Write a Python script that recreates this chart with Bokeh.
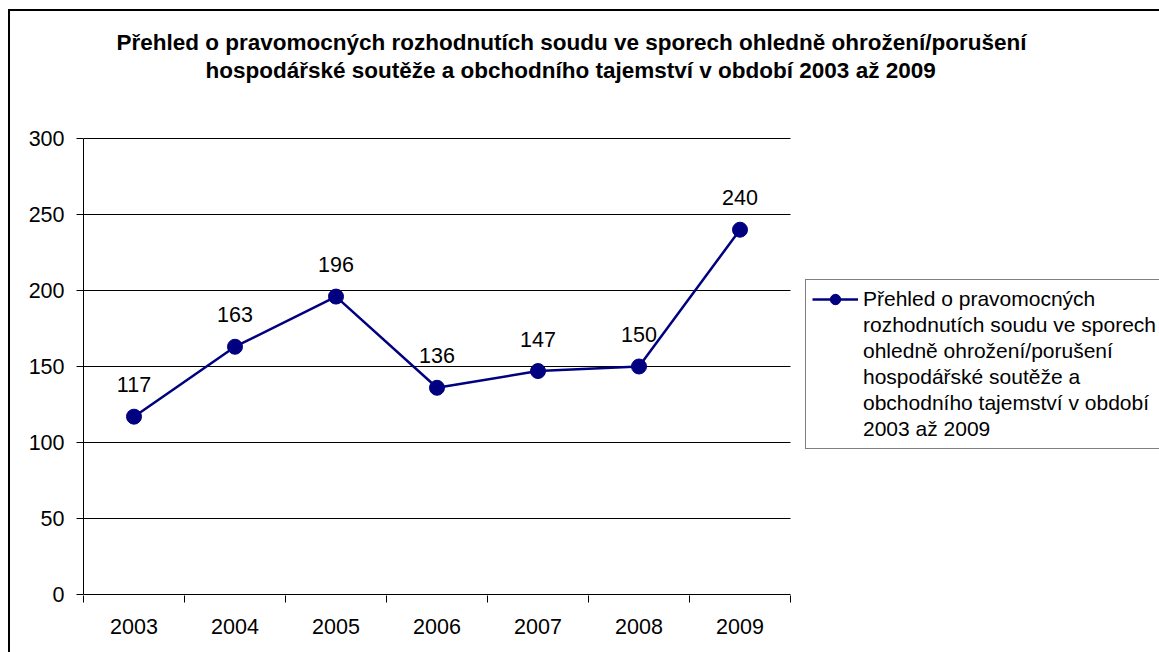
from bokeh.plotting import figure
from bokeh.models import (Range1d, FixedTicker, LabelSet, ColumnDataSource, Legend,
                          LegendItem, Title, InlineStyleSheet)
from bokeh.core.properties import value
from bokeh.embed import file_html
from bokeh.resources import INLINE

# ---- data ----
years = [2003, 2004, 2005, 2006, 2007, 2008, 2009]
values = [117, 163, 196, 136, 147, 150, 240]
y_ticks = [0, 50, 100, 150, 200, 250, 300]
title_lines = [
    "Přehled o pravomocných rozhodnutích soudu ve sporech ohledně ohrožení/porušení",
    "hospodářské soutěže a obchodního tajemství v období 2003 až 2009",
]
legend_lines = [
    "Přehled o pravomocných",
    "rozhodnutích soudu ve sporech",
    "ohledně ohrožení/porušení",
    "hospodářské soutěže a",
    "obchodního tajemství v období",
    "2003 až 2009",
]

FONT = "Liberation Sans"
NAVY = "#000080"

# ---- layout (pixels) ----
W, H = 1159, 652
LEFT, TOP = 83, 137          # frame origin
PLOT_W, PLOT_H = 707, 456    # visible plot area for the category/value span
FRAME_W = W - LEFT           # frame runs to the right edge so the legend is not clipped
FRAME_H = PLOT_H + 2         # 1px of slack at top and bottom so edge lines are not clipped

x0, x1 = years[0] - 0.5, years[-1] + 0.5
x_end = x0 + (x1 - x0) * FRAME_W / PLOT_W
pad = (y_ticks[-1] - y_ticks[0]) / PLOT_H

p = figure(width=W, height=H, output_backend="svg", toolbar_location=None,
           title=None,
           x_range=Range1d(x0, x_end),
           y_range=Range1d(y_ticks[0] - pad, y_ticks[-1] + pad),
           min_border_left=LEFT, min_border_right=0, min_border_top=TOP,
           min_border_bottom=H - TOP - FRAME_H)
p.outline_line_color = None
p.background_fill_color = "white"
p.border_fill_color = "white"

# outer chart-area border (left and top edges; the rest runs off the picture)
p.stylesheets = [InlineStyleSheet(css="""
:host::after {
  content: "";
  position: absolute;
  left: 8px; top: 9px; right: 0; bottom: 0;
  border-left: 2px solid #000;
  border-top: 2px solid #000;
  pointer-events: none;
}
""")]

# x axis: labels at year centres, ticks between categories
xt = FixedTicker(ticks=years, minor_ticks=[y - 0.5 for y in years] + [years[-1] + 0.5])
p.xaxis.ticker = xt
p.xaxis.major_label_overrides = {y: str(y) for y in years}
p.xaxis.major_tick_line_color = None
p.xaxis.major_tick_out = 7
p.xaxis.major_tick_in = 0
p.xaxis.minor_tick_line_color = "black"
p.xaxis.minor_tick_out = 7
p.xaxis.minor_tick_in = 0
p.xaxis.axis_line_color = None
p.xaxis.major_label_standoff = 16
p.xaxis.major_label_text_font = FONT
p.xaxis.major_label_text_font_size = "21.5px"
p.xaxis.major_label_text_color = "black"

yt = FixedTicker(ticks=y_ticks, minor_ticks=[])
p.yaxis.ticker = yt
p.yaxis.bounds = (y_ticks[0], y_ticks[-1])
p.yaxis.major_tick_out = 7
p.yaxis.major_tick_in = 0
p.yaxis.major_tick_line_color = "black"
p.yaxis.minor_tick_line_color = None
p.yaxis.axis_line_color = "black"
p.yaxis.major_label_standoff = 12
p.yaxis.major_label_text_font = FONT
p.yaxis.major_label_text_font_size = "21.5px"
p.yaxis.major_label_text_color = "black"

p.xgrid.grid_line_color = None
p.ygrid.grid_line_color = None

# horizontal gridlines (incl. the category axis line at 0), limited to the plot area
p.segment(x0=[x0] * len(y_ticks), x1=[x1] * len(y_ticks), y0=y_ticks, y1=y_ticks,
          line_color="black", line_width=1)

src = ColumnDataSource(dict(x=years, y=values, t=[str(v) for v in values]))
ln = p.line("x", "y", source=src, line_color=NAVY, line_width=2.5)
pt = p.scatter("x", "y", source=src, size=15, fill_color=NAVY, line_color=NAVY)
# invisible companion used only for the continuation lines of the legend label
ghost = p.line("x", "y", source=src, line_alpha=0)

labels = LabelSet(x="x", y="y", text="t", source=src, y_offset=32,
                  text_align="center", text_baseline="middle",
                  text_font=value(FONT), text_font_size="21.5px", text_color="black")
p.add_layout(labels)

# title: spacer nearest the frame, then line 2, then line 1
p.add_layout(Title(text=" ", text_font=FONT, text_font_size="46px", standoff=0), "above")
for line, off in [(title_lines[1], 122), (title_lines[0], 33)]:
    p.add_layout(Title(text=line, align="left", offset=off,
                       text_font=FONT, text_font_size="22.5px", text_font_style="bold",
                       text_color="black", standoff=1), "above")

items = [LegendItem(label=legend_lines[0], renderers=[ln, pt])]
items += [LegendItem(label=t, renderers=[ghost]) for t in legend_lines[1:]]
legend = Legend(items=items,
                location=(805 - LEFT, TOP + FRAME_H - 449),
                glyph_width=46, glyph_height=26, label_height=26,
                label_standoff=5, padding=6, spacing=0, margin=0,
                label_text_font=FONT, label_text_font_size="21px",
                label_text_color="black", label_text_baseline="middle",
                border_line_color="black", border_line_width=1,
                background_fill_color="white")
p.add_layout(legend, "center")

open("out.html", "w").write(file_html(p, INLINE))
